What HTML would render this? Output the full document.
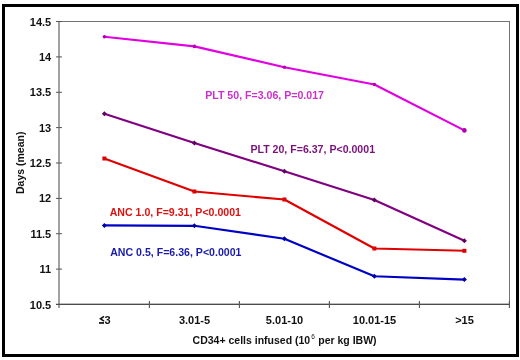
<!DOCTYPE html>
<html><head><meta charset="utf-8"><style>
html,body{margin:0;padding:0;background:#fff;width:520px;height:360px;overflow:hidden}
svg{display:block;will-change:transform}
text{font-family:"Liberation Sans",sans-serif;font-weight:bold}
</style></head><body>
<svg width="520" height="360" viewBox="0 0 520 360">

<!-- outer border -->
<rect x="3.5" y="5.5" width="514" height="350" fill="none" stroke="#000" stroke-width="3"/>
<!-- plot area -->
<rect x="59" y="21.5" width="450.5" height="282.8" fill="none" stroke="#747474" stroke-width="1"/>
<!-- y axis -->
<line x1="59" y1="21" x2="59" y2="308" stroke="#a2a2a2" stroke-width="2"/>
<!-- x axis -->
<line x1="56" y1="304.3" x2="509.5" y2="304.3" stroke="#4c4c4c" stroke-width="1.2"/>
<!-- y ticks -->
<g stroke="#555" stroke-width="1">
<line x1="56" y1="21.5" x2="62" y2="21.5"/>
<line x1="56" y1="56.9" x2="62" y2="56.9"/>
<line x1="56" y1="92.3" x2="62" y2="92.3"/>
<line x1="56" y1="127.6" x2="62" y2="127.6"/>
<line x1="56" y1="163" x2="62" y2="163"/>
<line x1="56" y1="198.4" x2="62" y2="198.4"/>
<line x1="56" y1="233.7" x2="62" y2="233.7"/>
<line x1="56" y1="269.1" x2="62" y2="269.1"/>
</g>
<!-- x ticks -->
<g stroke="#555" stroke-width="1.1">
<line x1="149.4" y1="301" x2="149.4" y2="308"/>
<line x1="239.4" y1="301" x2="239.4" y2="308"/>
<line x1="329.4" y1="301" x2="329.4" y2="308"/>
<line x1="419.4" y1="301" x2="419.4" y2="308"/>
<line x1="509.4" y1="301" x2="509.4" y2="308"/>
</g>
<!-- y labels -->
<g font-size="11" text-anchor="end" fill="#111">
<text x="51.2" y="25.5">14.5</text>
<text x="51.2" y="60.9">14</text>
<text x="51.2" y="96.3">13.5</text>
<text x="51.2" y="131.6">13</text>
<text x="51.2" y="167.0">12.5</text>
<text x="51.2" y="202.4">12</text>
<text x="51.2" y="237.7">11.5</text>
<text x="51.2" y="273.1">11</text>
<text x="51.2" y="308.5">10.5</text>
</g>
<!-- x labels -->
<g font-size="11" text-anchor="middle" fill="#111">
<text x="107.6" y="323.8">3</text>
<text x="194.5" y="323.8">3.01-5</text>
<text x="284.5" y="323.8">5.01-10</text>
<text x="374.5" y="323.8">10.01-15</text>
<text x="464.5" y="323.8">&gt;15</text>
</g>
<polyline points="104,316.4 100.5,318.8 104,321.2" fill="none" stroke="#111" stroke-width="1.6"/><rect x="99" y="322.1" width="5" height="1.7" fill="#111"/>
<!-- axis titles -->
<text font-size="10.5" fill="#111" x="192.6" y="343.8">CD34+ cells infused (10<tspan font-size="6.5" font-weight="normal" dx="1" dy="-4.6">6</tspan><tspan dx="0.5" dy="4.6"> per kg IBW)</tspan></text>
<text font-size="10.5" fill="#111" transform="translate(24,194) rotate(-90)" x="0" y="0">Days (mean)</text>
<!-- series -->
<g fill="none" stroke-width="2.15" stroke-linejoin="round">
<polyline stroke="#e000e0" points="104.4,36.8 194.4,46.4 284.4,67.2 374.4,84.5 464.4,130.4"/>
<polyline stroke="#800080" points="104.4,113.8 194.4,143.1 284.4,171.2 374.4,199.9 464.4,240.8"/>
<polyline stroke="#e00000" points="104.4,158.5 194.4,191.5 284.4,199.5 374.4,248.5 464.4,250.8"/>
<polyline stroke="#0000c4" points="104.4,225.4 194.4,225.8 284.4,238.8 374.4,276.3 464.4,279.6"/>
</g>
<!-- markers -->
<g fill="#b000b0">
<circle cx="104.4" cy="36.8" r="1.8"/><circle cx="194.4" cy="46.4" r="1.8"/><circle cx="284.4" cy="67.2" r="1.8"/><circle cx="374.4" cy="84.5" r="1.8"/><circle cx="464.4" cy="130.4" r="2.3"/>
</g>
<g fill="#600060">
<path d="M104.4,111.3 l2.5,2.5 l-2.5,2.5 l-2.5,-2.5z"/><path d="M194.4,140.6 l2.5,2.5 l-2.5,2.5 l-2.5,-2.5z"/><path d="M284.4,168.7 l2.5,2.5 l-2.5,2.5 l-2.5,-2.5z"/><path d="M374.4,197.4 l2.5,2.5 l-2.5,2.5 l-2.5,-2.5z"/><path d="M464.4,238.3 l2.5,2.5 l-2.5,2.5 l-2.5,-2.5z"/>
</g>
<g fill="#dd0000">
<rect x="102.4" y="156.5" width="4" height="4"/><rect x="192.4" y="189.5" width="4" height="4"/><rect x="282.4" y="197.5" width="4" height="4"/><rect x="372.4" y="246.5" width="4" height="4"/><rect x="462.4" y="248.8" width="4" height="4"/>
</g>
<g fill="#0000aa">
<path d="M104.4,222.9 l2.5,2.5 l-2.5,2.5 l-2.5,-2.5z"/><path d="M194.4,223.3 l2.5,2.5 l-2.5,2.5 l-2.5,-2.5z"/><path d="M284.4,236.3 l2.5,2.5 l-2.5,2.5 l-2.5,-2.5z"/><path d="M374.4,273.8 l2.5,2.5 l-2.5,2.5 l-2.5,-2.5z"/><path d="M464.4,277.1 l2.5,2.5 l-2.5,2.5 l-2.5,-2.5z"/>
</g>
<!-- annotations -->
<g font-size="10.6">
<text x="205.2" y="99.2" fill="#cc30cc">PLT 50, F=3.06, P=0.017</text>
<text x="250.4" y="152.7" fill="#7a107a">PLT 20, F=6.37, P&lt;0.0001</text>
<text x="109.7" y="215.9" fill="#dd1111">ANC 1.0, F=9.31, P&lt;0.0001</text>
<text x="110.2" y="255.6" fill="#1a1aaa">ANC 0.5, F=6.36, P&lt;0.0001</text>
</g>
</svg>
</body></html>
